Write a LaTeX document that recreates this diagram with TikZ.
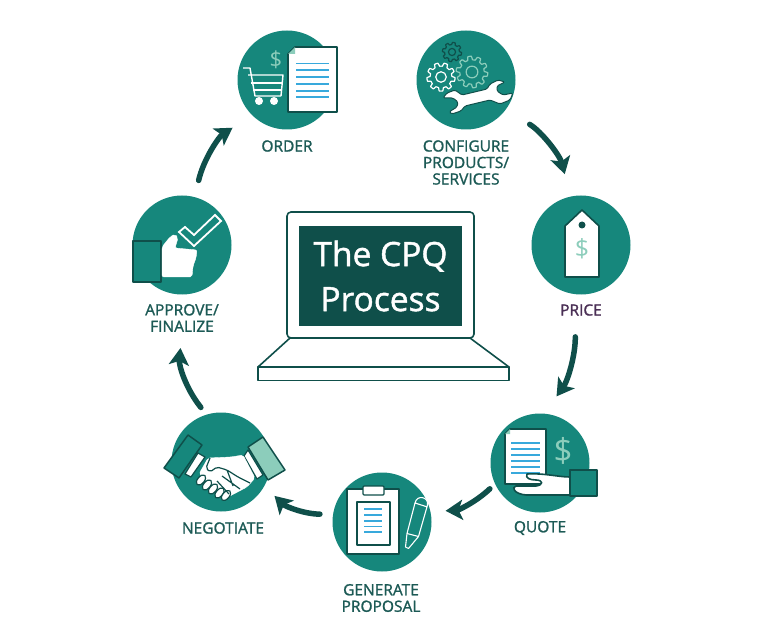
\documentclass[tikz,border=0pt]{standalone}
\usepackage{fontspec}
\setmainfont{Open Sans}
\newfontfamily\labfont{Open Sans}[FakeBold=1.3]
\usetikzlibrary{arrows.meta}
\definecolor{teal1}{HTML}{16877C}
\definecolor{dark1}{HTML}{0F4F4A}
\definecolor{txt1}{HTML}{1C5A55}
\definecolor{mint1}{HTML}{8CCDBB}
\definecolor{blue1}{HTML}{38A9DC}
\definecolor{plum1}{HTML}{4A2F55}
\tikzset{
  disc/.style={circle,fill=teal1,minimum size=99pt,inner sep=0pt},
  lab/.style={text=txt1,align=center,inner sep=0pt,font=\labfont\fontsize{15.5}{16.5}\selectfont},
  flow/.style={draw=dark1,line width=5.5pt,line cap=round,-{Stealth[length=17pt,width=20pt,inset=4pt]}},
  paper/.style={fill=white,draw=dark1,line width=1.6pt,line join=round},
  textline/.style={draw=blue1,line width=1.7pt},
  sleeve/.style={fill=teal1,draw=dark1,line width=1.5pt,line join=round},
}
\newcommand{\geargl}[5]{% x y radius toothcount colour
  \draw[#5,line width=1.2pt,line join=round,shift={(#1,#2)}]
    plot[domain=0:360,samples=145] (\x:{#3+0.13*#3*max(-1,min(1,2.5*sin(#4*\x)))}) -- cycle;
  \draw[#5,line width=1.2pt] (#1,#2) circle[radius=0.42*#3];
}
\begin{document}
\begin{tikzpicture}[x=1pt,y=-1pt]
\useasboundingbox (0,0) rectangle (768,644);
\fill[white] (0,0) rectangle (768,644);
% discs
\node[disc] (order) at (287,80) {};
\node[disc] (config) at (466,80) {};
\node[disc] (price) at (581,245) {};
\node[disc] (quote) at (540,463) {};
\node[disc] (proposal) at (382,522) {};
\node[disc] (negotiate) at (221,462) {};
\node[disc] (approve) at (182,245) {};
% labels
\node[lab] (lorder) at (287,146) {ORDER};
\node[lab] (lconfig) at (466,162.5) {CONFIGURE\\PRODUCTS/\\SERVICES};
\node[lab,text=plum1] (lprice) at (581,310) {PRICE};
\node[lab] (lquote) at (540,528) {QUOTE};
\node[lab] (lproposal) at (381,598) {GENERATE\\PROPOSAL};
\node[lab] (lnegotiate) at (223,528) {NEGOTIATE};
\node[lab] (lapprove) at (182,318) {APPROVE/\\FINALIZE};
% connectors
\draw[flow,shorten <=17pt,shorten >=23pt] (approve.75) to[bend left=22] (order.225);
\draw[flow,shorten <=28pt,shorten >=23pt] (config.-37) to[bend left=22] (price.102);
\draw[flow,shorten <=21pt,shorten >=21pt] (lprice.225) to[bend left=18] (quote.85);
\draw[flow,shorten <=7pt,shorten >=15pt] (quote.205) to[bend left=20] (proposal.12);
\draw[flow,shorten <=13pt,shorten >=14pt] (proposal.171) to[bend left=22] (negotiate.-29);
\draw[flow,shorten <=9pt,shorten >=16pt] (negotiate.107) to[bend left=22] (lapprove.south);
% laptop
\draw[paper,fill=white] (290,338) -- (258,367) -- (509,367) -- (470,338) -- cycle;
\draw[paper] (258,367) rectangle (509,380.5);
\draw[paper,rounded corners=4pt] (287,212) rectangle (474,338);
\node[fill=dark1,minimum width=163pt,minimum height=100pt,inner sep=0pt,text=white,align=center,
  font=\labfont\fontsize{33.5}{45}\selectfont] (screen) at (380.5,276) {The CPQ\\Process};
% ORDER icon
\node[text=mint1,inner sep=0pt,font=\fontsize{22}{22}\selectfont] (d1) at (276,60) {\$};
\draw[white,line width=1.4pt,line join=round] (243,68) -- (250,68) -- (255,96) -- (281,96);
\draw[white,line width=1.4pt,line join=round] (248,75) -- (283,75) -- (281,96);
\draw[white,line width=1.4pt] (251,83) -- (282,83) (253,90) -- (281,90);
\fill[white] (259,101) circle[radius=4] (274,101) circle[radius=4];
\draw[paper] (295,47) -- (337,47) -- (337,112) -- (288,112) -- (288,54) -- cycle;
\fill[mint1] (295,47) -- (295,54) -- (288,54) -- cycle;
\foreach \yy in {63.5,70,77.3,84,91,97.3} \draw[textline] (296,\yy) -- (329,\yy);
% CONFIGURE icon
\geargl{452}{52}{8.5}{8}{dark1}
\geargl{472}{72}{14}{10}{mint1}
\geargl{441}{77}{12.5}{9}{white}
\draw[paper,line width=1pt,rounded corners=1.5pt]
  (462,95) -- (487,89) -- (490,84) -- (498,80) -- (505,82) -- (497,86) -- (497,91) -- (503,95) -- (513,93)
  -- (510,100) -- (500,104) -- (490,100) -- (465,106) -- (461,111) -- (452,114) -- (449,112) -- (457,107)
  -- (458,102) -- (453,98) -- (443,98) -- (447,93) -- (455,90) -- cycle;
% PRICE icon
\draw[paper] (582,210) -- (599,226) -- (599,277) -- (565,277) -- (565,226) -- cycle;
\fill[dark1] (582,225) circle[radius=3.5];
\node[text=mint1,inner sep=0pt,font=\fontsize{25}{25}\selectfont] (d2) at (582,249) {\$};
% QUOTE icon
\node[text=mint1,inner sep=0pt,font=\fontsize{33}{33}\selectfont] (d3) at (563,451) {\$};
\draw[paper] (510,429) -- (546,429) -- (546,484) -- (505,484) -- (505,434) -- cycle;
\fill[mint1] (510,429) -- (510,434) -- (505,434) -- cycle;
\foreach \yy in {443,449,455,461,467,473} \draw[textline] (511,\yy) -- (540,\yy);
\draw[paper] (527,474) .. controls (545,473) and (558,477) .. (570,477) -- (570,495) -- (526,495)
  .. controls (514,494) and (511,487) .. (516,486) -- (536,486)
  .. controls (544,485) and (543,480) .. (536,480) .. controls (530,480) and (525,478) .. (527,474) -- cycle;
\draw[sleeve] (570,470) rectangle (597,496);
% PROPOSAL icon
\draw[paper,draw=dark1] (347,489) rectangle (399,554);
\draw[paper,line width=1.2pt,fill=white,rounded corners=1pt] (363,486) rectangle (384,495);
\draw[paper,line width=2pt] (357,502) rectangle (390,545);
\foreach \yy in {509,515,521,526.5,532} \draw[textline] (364,\yy) -- (382,\yy);
\draw[white,line width=1.1pt,line join=round]
  (418.5,536.5) -- (427.5,505) .. controls (429,497) and (417,494) .. (415,503) -- (407,533.5)
  -- (405.5,547) -- (408.5,548.5) -- cycle (415,503) -- (427.5,507);
\draw[white,line width=1.1pt] (407,533.5) -- (418.5,536.5);
% NEGOTIATE icon
\draw[sleeve] (188,435) -- (202,445) -- (179,478) -- (164,468) -- cycle;
\draw[sleeve,fill=mint1] (248,447) -- (263,437) -- (285,470) -- (268,480) -- cycle;
\draw[paper,line width=1.2pt] (198,453) -- (205,457) -- (191,477) -- (185,474) -- cycle;
\draw[paper,line width=1.2pt] (244,456) -- (248,450) -- (263,475) -- (257,479) -- cycle;
\draw[fill=white,draw=white,rounded corners=2pt]
  (208,458) -- (231,457) -- (243,455) -- (255,478) -- (247,487) -- (228,497) -- (212,486) -- (199,474) -- cycle;
\foreach \xx/\yy in {201/480,207/485,213/489,219.5/493,226/495.5}
  \draw[paper,line width=1.2pt,rotate around={-40:(\xx,\yy)}] (\xx,\yy) ellipse[x radius=3.4,y radius=6];
\draw[dark1,line width=1.2pt,line join=round,rounded corners=2pt]
  (210,458) -- (206,468) -- (210,472) -- (217,467) -- (227,470) -- (238,477) -- (250,483)
  (227,470) -- (233,486) (222,476) -- (240,489) (217,481) -- (229,494);
% APPROVE icon
\draw[sleeve] (133,241) rectangle (161,282);
\draw[white,fill=white,line join=round,rounded corners=2pt]
  (162,247) -- (170,237) -- (175,234) -- (178,238) -- (175,248) -- (197,250) -- (196,258) -- (193,266) -- (192,277) -- (162,277) -- cycle;
\draw[white,line width=1.8pt,line join=miter]
  (179,232) -- (185,227) -- (194,235) -- (215,215) -- (221,221) -- (194,246) -- cycle;
\end{tikzpicture}
\end{document}
